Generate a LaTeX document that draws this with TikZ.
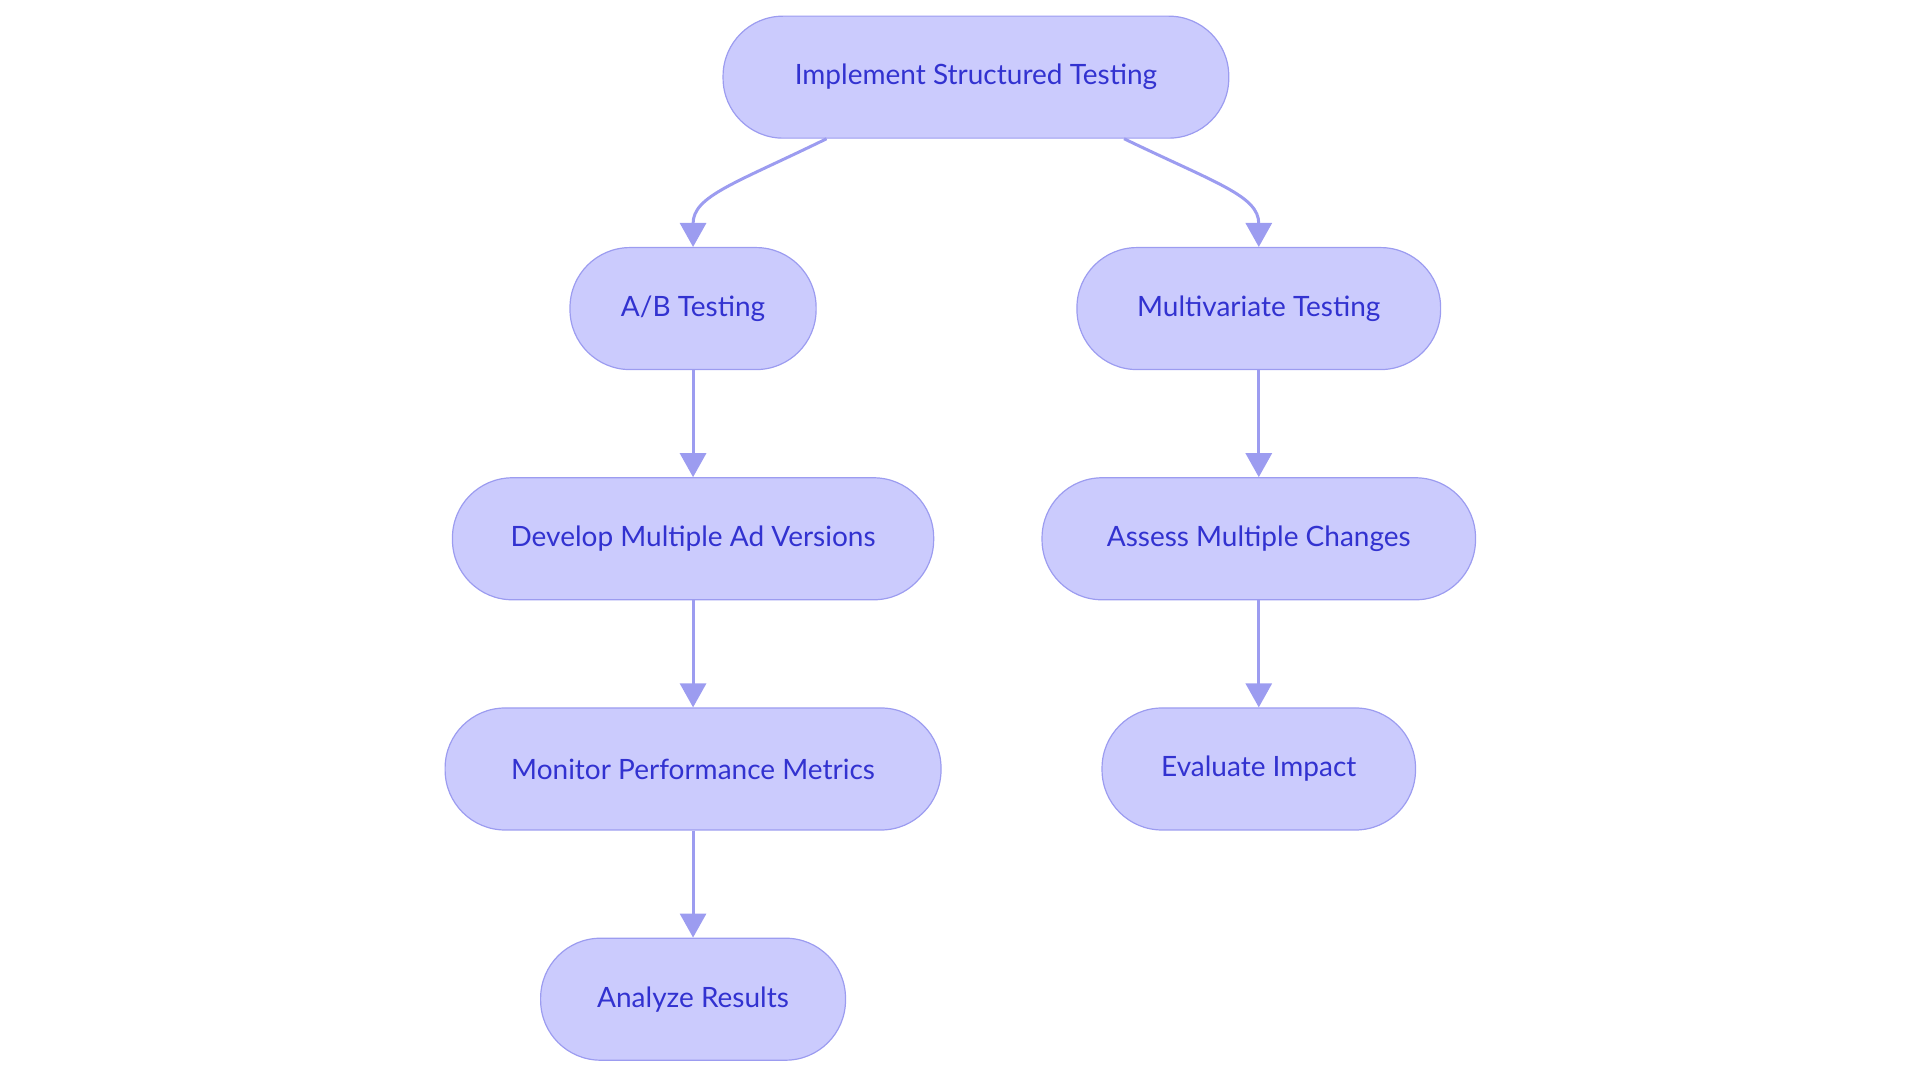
\documentclass[tikz,border=0pt]{standalone}
\usepackage{fontspec}
\setmainfont{Lato}
\usetikzlibrary{arrows.meta}
\definecolor{nfill}{HTML}{CBCBFD}
\definecolor{nline}{HTML}{9C9CF0}
\definecolor{ntext}{HTML}{3232D0}
\begin{document}
\begin{tikzpicture}[x=1.2245pt,y=-1.2245pt,
  box/.style={draw=nline,line width=1.2pt,fill=nfill,rounded corners=60pt,text=ntext,font=\fontsize{28}{32}\selectfont,minimum height=122pt,inner sep=0pt},
  conn/.style={draw=nline,line width=3pt,-{Triangle[length=24pt,width=26pt]}}]
\useasboundingbox (0,0) rectangle (1568,885);
\tikzset{bx/.style={box,minimum width=#1*1.2245pt}}
\node[bx=413] (top) at (797,63) {Implement Structured Testing};
\node[bx=201] (ab) at (566,252) {A/B Testing};
\node[bx=297] (mv) at (1028,252) {Multivariate Testing};
\node[bx=393] (dev) at (566,440) {Develop Multiple Ad Versions};
\node[bx=354] (as) at (1028,440) {Assess Multiple Changes};
\node[bx=405] (mon) at (566,628) {Monitor Performance Metrics};
\node[bx=256] (ev) at (1028,628) {Evaluate Impact};
\node[bx=249] (an) at (566,816) {Analyze Results};
\draw[conn] ([xshift=-122*1.2245pt]top.south) .. controls (600,150) and (566,160) .. (ab.north);
\draw[conn] ([xshift=121*1.2245pt]top.south) .. controls (994,150) and (1028,160) .. (mv.north);
\draw[conn] (ab) -- (dev);
\draw[conn] (dev) -- (mon);
\draw[conn] (mon) -- (an);
\draw[conn] (mv) -- (as);
\draw[conn] (as) -- (ev);
\end{tikzpicture}
\end{document}
